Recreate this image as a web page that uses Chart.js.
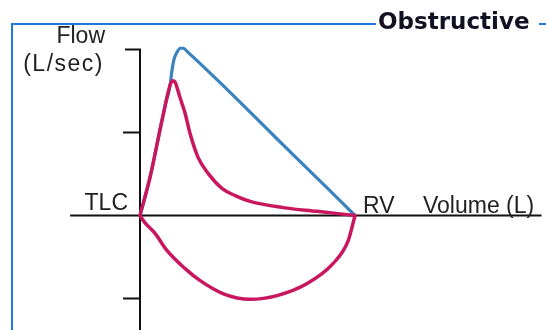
<!DOCTYPE html>
<html><head><meta charset="utf-8">
<script src="https://cdn.jsdelivr.net/npm/chart.js@4/dist/chart.umd.min.js"></script>
<style>html,body{margin:0;padding:0;background:#fff;overflow:hidden}canvas{display:block}</style>
</head><body>
<canvas id="c" width="546" height="330"></canvas>
<script>
// Volume (L) from TLC (0) to RV (4); flow (L/sec)
const normalVol  = [0, 0.19, 0.37, 0.48, 0.56, 0.59, 0.63, 0.69, 0.75, 0.81, 0.88, 1.5, 2.5, 3.5, 4.0];
const normalFlow = [0, 0.94, 2.05, 2.72, 3.13, 3.45, 3.75, 3.94, 4.03, 4.03, 3.95, 3.19, 1.91, 0.64, 0];
const expVol  = [0, 0.19, 0.37, 0.48, 0.53, 0.57, 0.61, 0.65, 0.69, 0.74, 0.84, 0.93, 1.08, 1.27, 1.53, 1.77, 2.05, 2.66, 3.29, 4.0];
const expFlow = [0, 0.94, 2.05, 2.72, 3.00, 3.18, 3.25, 3.22, 3.08, 2.86, 2.46, 1.98, 1.40, 1.01, 0.65, 0.48, 0.34, 0.19, 0.10, 0];
const inspVol  = [0, 0.09, 0.28, 0.50, 0.84, 1.12, 1.54, 2.05, 2.55, 3.11, 3.59, 3.87, 4.0];
const inspFlow = [0, -0.17, -0.43, -0.84, -1.28, -1.57, -1.88, -2.02, -1.93, -1.64, -1.16, -0.62, 0];
const flowTicks = [4, 2, -2];
const axisLabels = {flow: ["Flow", "(L/sec)"], tlc: "TLC", rv: "RV", volume: "Volume (L)"};
const title = "Obstructive";

const BLUE = '#3b83bf', PINK = '#c8175e';
const pts = (xs, ys) => xs.map((x, i) => ({x, y: ys[i]}));

const deco = {
  id: 'deco',
  beforeDatasetsDraw(chart) {
    const ctx = chart.ctx, xs = chart.scales.x, ys = chart.scales.y;
    const x0 = xs.getPixelForValue(0), y0 = ys.getPixelForValue(0);
    ctx.save();
    // frame
    ctx.strokeStyle = '#1f78dc'; ctx.lineWidth = 2;
    ctx.beginPath(); ctx.moveTo(12, 330); ctx.lineTo(12, 24); ctx.lineTo(376, 24); ctx.stroke();
    ctx.beginPath(); ctx.moveTo(539, 24); ctx.lineTo(546, 24); ctx.stroke();
    ctx.fillStyle = '#111122';
    ctx.font = 'bold 23px "DejaVu Sans"';
    ctx.textBaseline = 'alphabetic'; ctx.textAlign = 'left';
    ctx.fillText(title, 378, 29);
    // axes
    ctx.strokeStyle = '#111'; ctx.lineWidth = 2;
    const yTop = ys.getPixelForValue(flowTicks[0]);
    ctx.beginPath(); ctx.moveTo(x0, 330); ctx.lineTo(x0, yTop); ctx.stroke();
    ctx.beginPath(); ctx.moveTo(xs.getPixelForValue(-1.3), y0); ctx.lineTo(xs.getPixelForValue(7.47), y0); ctx.stroke();
    flowTicks.forEach((t, i) => {
      const p = ys.getPixelForValue(t);
      ctx.beginPath(); ctx.moveTo(i === 0 ? x0 - 15 : x0 - 17, p); ctx.lineTo(x0 + (i === 0 ? 1 : 0), p); ctx.stroke();
    });
    // labels
    ctx.fillStyle = '#222';
    ctx.font = '23px "Liberation Sans", Arial, sans-serif';
    ctx.textAlign = 'right';
    ctx.fillText(axisLabels.flow[0], 105, 43);
    ctx.letterSpacing = '1.5px';
    ctx.fillText(axisLabels.flow[1], 104, 71);
    ctx.letterSpacing = '0px';
    ctx.fillText(axisLabels.tlc, x0 - 12, y0 - 6);
    ctx.textAlign = 'left';
    const xr = xs.getPixelForValue(4);
    ctx.fillText(axisLabels.rv, xr + 8, y0 - 3);
    ctx.fillText(axisLabels.volume, 423, y0 - 3);
    ctx.restore();
  }
};

new Chart(document.getElementById('c'), {
  type: 'line',
  data: {
    datasets: [
      {data: pts(normalVol, normalFlow), borderColor: BLUE, borderWidth: 3.2, order: 2},
      {data: pts(expVol, expFlow), borderColor: PINK, borderWidth: 3.5, order: 1},
      {data: pts(inspVol, inspFlow), borderColor: PINK, borderWidth: 3.5, order: 1}
    ]
  },
  options: {
    responsive: false, devicePixelRatio: 1, animation: false,
    layout: {padding: 0},
    elements: {point: {radius: 0}, line: {cubicInterpolationMode: 'monotone', borderCapStyle: 'round', borderJoinStyle: 'round'}},
    plugins: {legend: {display: false}, tooltip: {enabled: false}},
    scales: {
      x: {type: 'linear', display: false, min: -140/53.75, max: 406/53.75},
      y: {type: 'linear', display: false, min: -114.5/41.5, max: 215.5/41.5}
    }
  },
  plugins: [deco]
});
</script>
</body></html>
